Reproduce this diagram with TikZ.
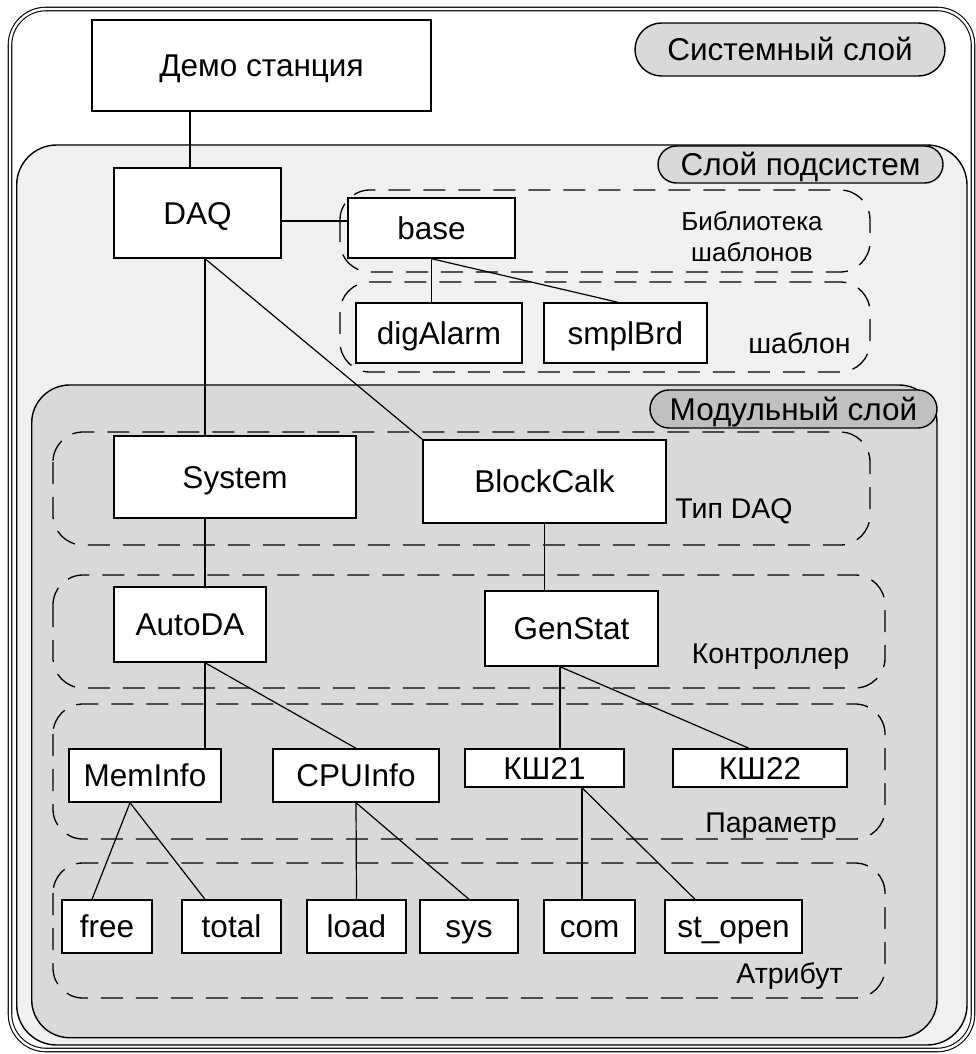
\documentclass[tikz,border=0pt]{standalone}
\usepackage{fontspec}
\setmainfont{Liberation Sans}
\usetikzlibrary{calc}
\definecolor{sloyA}{HTML}{F0F0F0}
\definecolor{sloyB}{HTML}{D9D9D9}
\definecolor{sloyC}{HTML}{C0C0C0}

\begin{document}
\begin{tikzpicture}[x=1pt,y=-1pt,
    razm/.style 2 args={minimum width=#1pt,minimum height=#2pt},
    blok/.style={draw,fill=white,line width=1.4pt,inner sep=0pt,
        font=\fontsize{31.5}{36}\selectfont,text height=22.5pt,text depth=0pt},
    pilyulya/.style={draw,line width=1.4pt,inner sep=0pt,rounded corners=#1,
        font=\fontsize{31.5}{36}\selectfont,text height=22.5pt,text depth=0pt},
    gruppa/.style={draw,line width=1.3pt,dash pattern=on 22pt off 13pt,rounded corners=30pt},
    podpis/.style={anchor=base,inner sep=0pt,font=\fontsize{28.5}{34}\selectfont},
    svyaz/.style={line width=1.2pt}]
    \useasboundingbox (0,0) rectangle (976,1054);
	% sloi
	\draw[double,double distance=2.4pt,line width=1.1pt,rounded corners=36pt] (10,9) rectangle (973,1050);
	\draw[fill=sloyA,line width=1.4pt,rounded corners=40pt] (16.7,145) rectangle (967,1045);
	\draw[fill=sloyB,line width=1.4pt,rounded corners=38pt] (31.7,385) rectangle (937,1037.7);
	% metki sloev
	\node[pilyulya=26.5pt,fill=sloyB,razm={310}{53}] (sysmetka) at (790,49.5) {Системный слой};
	\node[pilyulya=18.5pt,fill=sloyB,razm={285}{37}] (podmetka) at (800.5,164.5) {Слой подсистем};
	\node[pilyulya=19pt,fill=sloyC,razm={287}{38}] (modmetka) at (793.5,409) {Модульный слой};
	% gruppy
	\draw[gruppa] (340,190) rectangle (870,272);
	\draw[gruppa] (340,282) rectangle (870,372);
	\draw[gruppa] (53,432) rectangle (870,545);
	\draw[gruppa] (53,575) rectangle (885,688);
	\draw[gruppa] (53,704) rectangle (885,839);
	\draw[gruppa] (53,863) rectangle (885,998);
	% podpisi grupp
	\node[align=center,inner sep=0pt,font=\fontsize{26}{31}\selectfont] (biblpod) at (752,237) {Библиотека\\шаблонов};
	\node[podpis] (shabpod) at (799.5,353) {шаблон};
	\node[podpis] (tippod) at (734,518) {Тип DAQ};
	\node[podpis] (kontrpod) at (770.5,663) {Контроллер};
	\node[podpis] (parampod) at (771,832) {Параметр};
	\node[podpis] (atrpod) at (789.5,983) {Атрибут};
	% uzly
	\node[blok,razm={339}{91}] (demo) at (261.5,65.5) {Демо станция};
	\node[blok,razm={167}{90}] (daq) at (197.5,213) {DAQ};
	\node[blok,razm={167}{60}] (base) at (431.5,228) {base};
	\node[blok,razm={166}{60}] (digalarm) at (439,333) {digAlarm};
	\node[blok,razm={163}{60}] (smplbrd) at (625.5,333) {smplBrd};
	\node[blok,razm={242}{82}] (system) at (235,477) {System};
	\node[blok,razm={243}{83}] (blockcalk) at (544.5,481.5) {BlockCalk};
	\node[blok,razm={152}{75}] (autoda) at (190,624.5) {AutoDA};
	\node[blok,razm={173}{75}] (genstat) at (571.5,628.5) {GenStat};
	\node[blok,razm={152}{53}] (meminfo) at (145,775.5) {MemInfo};
	\node[blok,razm={166}{53}] (cpuinfo) at (356,775.5) {CPUInfo};
	\node[blok,razm={159}{38}] (ksh21) at (544.5,768) {КШ21};
	\node[blok,razm={174}{38}] (ksh22) at (760,768) {КШ22};
	\node[blok,razm={90}{53}] (free) at (107,926.5) {free};
	\node[blok,razm={99}{53}] (total) at (231.5,926.5) {total};
	\node[blok,razm={99}{53}] (load) at (356.5,926.5) {load};
	\node[blok,razm={98}{53}] (sys) at (469,926.5) {sys};
	\node[blok,razm={91}{53}] (com) at (589.5,926.5) {com};
	\node[blok,razm={137}{53}] (stopen) at (733.5,926.5) {st\_open};
	% svyazi
	\draw[svyaz] ([xshift=-7.5pt]daq.north) -- ([xshift=-7.5pt]daq.north |- demo.south);
	\draw[svyaz] ([yshift=-8pt]daq.east) -- ([yshift=-8pt]daq.east -| base.west);
	\draw[svyaz] ([xshift=7.5pt]daq.south) -- ([xshift=7.5pt]daq.south |- system.north);
	\draw[svyaz] ([xshift=7.5pt]daq.south) -- (blockcalk.north west);
	\draw[svyaz] (base.south) -- (base.south |- digalarm.north);
	\draw[svyaz] (base.south) -- ([xshift=-7.5pt]smplbrd.north);
	\draw[svyaz] ([xshift=-30pt]system.south) -- ([xshift=-30pt]system.south |- autoda.north);
	\draw[svyaz] (blockcalk.south) -- (blockcalk.south |- genstat.north);
	\draw[svyaz] ([xshift=15pt]autoda.south) -- ([xshift=15pt]autoda.south |- meminfo.north);
	\draw[svyaz] ([xshift=15pt]autoda.south) -- (cpuinfo.north);
	\draw[svyaz] ([xshift=-11.5pt]genstat.south) -- ([xshift=-11.5pt]genstat.south |- ksh21.north);
	\draw[svyaz] ([xshift=-11.5pt]genstat.south) -- ([xshift=-11pt]ksh22.north);
	\draw[svyaz] ([xshift=-15pt]meminfo.south) -- ([xshift=-15pt]free.north);
	\draw[svyaz] ([xshift=-15pt]meminfo.south) -- ([xshift=-26.5pt]total.north);
	\draw[svyaz] (cpuinfo.south) -- (load.north);
	\draw[svyaz] (cpuinfo.south) -- (sys.north);
	\draw[svyaz] ([xshift=37.5pt]ksh21.south) -- ([xshift=37.5pt]ksh21.south |- com.north);
	\draw[svyaz] ([xshift=37.5pt]ksh21.south) -- ([xshift=-38.5pt]stopen.north);
\end{tikzpicture}
\end{document}
